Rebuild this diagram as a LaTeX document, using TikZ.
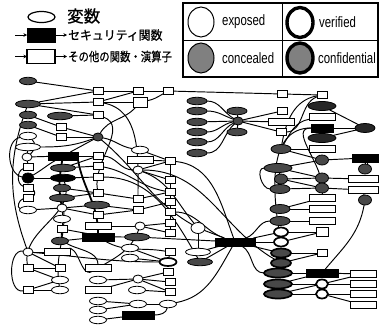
\documentclass[tikz,border=0pt]{standalone}
\usepackage{fontspec}
\setmainfont{Liberation Sans}
\newfontfamily\jp[FakeBold=0.8]{Noto Sans CJK JP}
\newfontfamily\nar[FakeStretch=0.76]{Liberation Sans}
\usetikzlibrary{shapes.geometric,arrows.meta}
\definecolor{lg}{RGB}{128,128,128}
\definecolor{dg}{RGB}{72,72,72}
\pgfdeclarelayer{bg}
\pgfsetlayers{bg,main}
\tikzset{
 nd/.style={inner sep=0pt,outer sep=0pt,line width=0.8pt,draw=black},
 vr/.style={nd,ellipse,fill=white,minimum width=17pt,minimum height=7.5pt},
 vrw/.style={vr,minimum width=25pt},
 ci/.style={nd,ellipse,fill=white,minimum width=10pt,minimum height=8pt},
 cv/.style={vr,fill=dg},
 cvw/.style={vrw,fill=dg},
 cc/.style={ci,fill=dg},
 vv/.style={ci,line width=1.7pt},
 fv/.style={vr,fill=dg,line width=1.7pt},
 fvw/.style={vrw,fill=dg,line width=1.7pt},
 bk/.style={vr,fill=black},
 fn/.style={nd,rectangle,fill=white,minimum width=10pt,minimum height=7pt},
 fnw/.style={fn,minimum width=26pt},
 sc/.style={nd,rectangle,fill=black,minimum width=30pt,minimum height=8pt},
 ed/.style={line width=0.95pt},
 tk/.style={line width=1.8pt},
 lgc/.style={nd,ellipse,minimum width=26pt,minimum height=30pt,line width=1pt},
 lgt/.style={anchor=west,inner sep=0pt,font=\nar\fontsize{15}{16}\selectfont},
 jpt/.style={anchor=west,inner sep=0pt},
 la/.style={-{Stealth[length=3.5pt,width=3.5pt]},line width=1pt},
}
\begin{document}
\begin{tikzpicture}[x=1pt,y=-1pt]
\useasboundingbox (0,0) rectangle (380,327);
% ---------- legend left ----------
\node[nd,ellipse,fill=white,minimum width=27pt,minimum height=11pt,line width=1.2pt] (le) at (41.5,17) {};
\node[jpt,font=\jp\fontsize{16.5}{17}\selectfont] (lt1) at (67,16) {変数};
\node[sc,minimum width=28pt,minimum height=14pt] (lsec) at (41,35) {};
\coordinate (la1) at (15,35);
\coordinate (la2) at (67,35);
\draw[la] (la1) -- (lsec.west);
\draw[la] (lsec.east) -- (la2);
\node[jpt,font=\jp\fontsize{12.5}{13}\selectfont] (lt2) at (68,35) {\scalebox{0.95}[1]{セキュリティ関数}};
\node[fn,minimum width=28pt,minimum height=14pt,line width=1.1pt] (lfn) at (41,56.5) {};
\coordinate (lb1) at (15,56.5);
\coordinate (lb2) at (67,56.5);
\draw[la] (lb1) -- (lfn.west);
\draw[la] (lfn.east) -- (lb2);
\node[jpt,font=\jp\fontsize{12.5}{13}\selectfont] (lt3) at (68,56.5) {\scalebox{0.83}[1]{その他の関数・演算子}};
% ---------- legend right ----------
\draw[line width=1.1pt] (183,3) rectangle (378,77);
\draw[line width=0.9pt] (282,3) -- (282,77);
\draw[line width=0.9pt] (183,40) -- (378,40);
\node[lgc,fill=white] (lc1) at (201,22) {};
\node[lgt] (lx1) at (222,22) {exposed};
\node[lgc,fill=white,line width=3.4pt] (lc2) at (300,22.5) {};
\node[lgt] (lx2) at (319,22) {verified};
\node[lgc,fill=lg] (lc3) at (201,58) {};
\node[lgt] (lx3) at (222,58) {concealed};
\node[lgc,fill=lg,line width=3.4pt] (lc4) at (300,58) {};
\node[lgt] (lx4) at (318,58) {confidential};
% ---------- graph nodes: left ----------
\node[cv] (a1) at (28,81) {};
\node[cvw] (a2) at (28,104) {};
\node[cv] (a3) at (28,115) {};
\node[cvw] (a4) at (60,116) {};
\node[cv] (a5) at (28,125) {};
\node[fn] (b1) at (98,91) {};
\node[fn] (b2) at (98,102) {};
\node[fn] (b3) at (98,115) {};
\node[fn] (b4) at (61,127) {};
\node[fn] (b5) at (61,137) {};
\node[vr] (w1) at (28,136) {};
\node[vrw] (w2) at (28,147) {};
\node[ci] (c1) at (27,157) {};
\node[cc] (x1) at (98,137) {};
\node[sc] (s1) at (63,156) {};
\node[fn] (f6) at (98,156) {};
\node[fn] (f7) at (98,166) {};
\node[fn] (f8) at (98,177) {};
\node[cvw] (e1) at (63,168) {};
\node[bk,minimum width=25pt] (e2) at (63,178) {};
\node[cv] (e3) at (62,188) {};
\node[cvw] (e4) at (62,198) {};
\node[fn] (l1) at (28,167) {};
\node[bk,minimum width=12pt,minimum height=10pt] (l2) at (28,178) {};
\node[fn] (l3) at (28,188) {};
\node[fn] (l4) at (28,198) {};
\node[vr] (l5) at (28,210) {};
\node[ci] (c2) at (62,208) {};
\node[fn] (f9) at (98,193) {};
\node[cvw] (e5) at (97,205) {};
\node[fn] (f10) at (98,215) {};
\node[vr] (w3) at (62,219) {};
\node[fn] (f11) at (62,229) {};
\node[fnw] (f12) at (98,226) {};
\node[cv] (e6) at (60,241) {};
\node[sc,minimum width=32pt] (s2) at (98,237) {};
\node[ci] (c3) at (28,252) {};
\node[fnw] (f13) at (57,252) {};
\node[fn] (f14) at (28,268) {};
\node[fn] (f15) at (60,268) {};
\node[fnw] (f16) at (98,268) {};
\node[vr] (w4) at (60,280) {};
\node[vr] (w5) at (98,280) {};
\node[fn] (f17) at (28,290) {};
\node[vr] (w6) at (60,290) {};
\node[fnw] (f18) at (98,290) {};
\node[vr] (w7) at (98,301) {};
\node[vr] (w8) at (98,310) {};
\node[vr] (w9) at (98,320) {};
% ---------- middle-left ----------
\node[fn] (g1) at (138,91) {};
\node[fn] (g2) at (168,91) {};
\node[fn,minimum width=14pt,minimum height=10pt] (g3) at (140,102) {};
\node[vr] (w10) at (140,150) {};
\node[fnw] (f19) at (140,160) {};
\node[fn] (f20) at (170,161) {};
\node[ci] (c4) at (138,170) {};
\node[fn] (f21) at (170,180) {};
\node[fn] (f22) at (170,192) {};
\node[fn] (f23) at (138,199) {};
\node[fn] (f24) at (170,202) {};
\node[fn] (f25) at (138,210) {};
\node[fn] (f26) at (170,212) {};
\node[fn] (f27) at (170,223) {};
\node[fn] (f28) at (170,233) {};
\node[ci] (c5) at (140,226) {};
\node[cvw] (e7) at (137,237) {};
\node[fn] (f29) at (170,252) {};
\node[vr] (w11) at (130,248) {};
\node[vr] (w12) at (130,258) {};
\node[vv,minimum width=17pt] (v1) at (168,262) {};
\node[fn] (f30) at (168,272) {};
\node[ci] (c6) at (138,279) {};
\node[fn] (f31) at (170,282) {};
\node[fn] (f32) at (170,292) {};
\node[vr] (w13) at (137,290) {};
\node[vr] (w14) at (138,304) {};
\node[vr] (w15) at (168,304) {};
\node[sc,minimum width=32pt] (s3) at (138,315) {};
% ---------- middle ----------
\node[cv,minimum width=20pt] (k1) at (197,101) {};
\node[cv,minimum width=20pt] (k2) at (197,111) {};
\node[cv,minimum width=20pt] (k3) at (197,122) {};
\node[cv,minimum width=20pt] (k4) at (197,132) {};
\node[cv,minimum width=20pt] (k5) at (197,142) {};
\node[cv,minimum width=20pt] (k6) at (197,153) {};
\node[cv,minimum width=20pt] (m1) at (237,111) {};
\node[cc] (m2) at (238,121) {};
\node[cv,minimum width=20pt] (m3) at (237,132) {};
\node[ci,minimum width=14pt,minimum height=11pt] (c7) at (198,228) {};
\node[vrw] (e8) at (198,252) {};
\node[cvw] (e9) at (200,262) {};
\node[sc,minimum width=40pt] (s4) at (235,242) {};
% ---------- right ----------
\node[fn] (r1) at (282,94) {};
\node[fn] (r2) at (282,111) {};
\node[fnw] (r3) at (281,122) {};
\node[fn] (r4) at (281,132) {};
\node[cv,minimum width=20pt,minimum height=9pt] (r5) at (281,149) {};
\node[cvw,minimum width=28pt,minimum height=9pt] (r6) at (278,168) {};
\node[cc,minimum width=13pt,minimum height=10pt] (r7) at (281,179) {};
\node[cv,minimum width=20pt,minimum height=9pt] (r8) at (280,189) {};
\node[cv,minimum width=20pt,minimum height=9pt] (r9) at (280,209) {};
\node[cv,minimum width=20pt,minimum height=9pt] (r10) at (280,221) {};
\node[vv,minimum width=14pt,minimum height=9pt] (r11) at (281,232) {};
\node[vv,minimum width=14pt,minimum height=9pt] (r12) at (281,242) {};
\node[fv,minimum width=20pt,minimum height=9pt] (r13) at (281,253) {};
\node[fv,minimum width=20pt,minimum height=9pt] (r14) at (281,263) {};
\node[fvw,minimum width=28pt,minimum height=9pt] (r15) at (278,273) {};
\node[fvw,minimum width=28pt,minimum height=9pt] (r16) at (278,284) {};
\node[fvw,minimum width=28pt,minimum height=9pt] (r17) at (278,294) {};
\node[fn] (q1) at (322,95) {};
\node[cvw,minimum width=28pt,minimum height=9pt,fill=black!85] (q2) at (322,106) {};
\node[fnw] (q3) at (322,117) {};
\node[sc,minimum width=22pt] (q4) at (322,128) {};
\node[cvw,minimum width=28pt,minimum height=9pt,fill=black!85] (q5) at (322,138) {};
\node[fnw] (q6) at (322,149) {};
\node[cc,minimum width=13pt,minimum height=10pt] (q7) at (322,160) {};
\node[cc,minimum width=13pt,minimum height=10pt] (q8) at (322,178) {};
\node[cc,minimum width=13pt,minimum height=10pt] (q9) at (322,188) {};
\node[fnw] (q10) at (322,198) {};
\node[fnw] (q11) at (322,209) {};
\node[fnw] (q12) at (322,221) {};
\node[fn,minimum width=12pt,minimum height=9pt] (q13) at (322,232) {};
\node[fn] (q14) at (322,253) {};
\node[sc,minimum width=32pt] (q15) at (322,273) {};
\node[vv,minimum width=12pt,minimum height=9pt] (q16) at (322,284) {};
\node[vv,minimum width=12pt,minimum height=9pt] (q17) at (322,294) {};
\node[cv,minimum width=20pt,minimum height=9pt,fill=black!85] (p1) at (365,128) {};
\node[sc,minimum width=26pt] (p2) at (365,158) {};
\node[cc,minimum width=13pt,minimum height=10pt] (p3) at (365,169) {};
\node[fnw,minimum width=30pt] (p4) at (363,179) {};
\node[fnw,minimum width=30pt] (p5) at (363,190) {};
\node[cc,minimum width=13pt,minimum height=10pt] (p6) at (365,200) {};
\node[fnw] (p7) at (363,274) {};
\node[fnw] (p8) at (363,284) {};
\node[fnw] (p9) at (363,294) {};
\node[fnw] (p10) at (363,305) {};
% ---------- edges ----------
\begin{pgfonlayer}{bg}
\draw[ed] (a1) -- (b1);
\draw[ed] (a2) -- (b1);
\draw[ed] (a2) -- (b2);
\draw[ed] (a2) -- (b3);
\draw[ed] (a4) -- (b3);
\draw[ed] (a3) -- (b4);
\draw[ed] (a5) -- (b5);
\draw[ed] (b4) -- (x1);
\draw[ed] (b5) -- (x1);
\draw[ed] (b1) -- (g1);
\draw[ed] (b2) -- (g1);
\draw[ed] (b2) -- (g3);
\draw[ed] (g1) -- (g2);
\draw[ed] (g2) -- (r1);
\draw[ed] (g3) to[out=10,in=-150] (g2);
\draw[ed] (x1) to[out=60,in=-130] (g3);
\draw[ed] (b2) to[out=-10,in=90] (f23);
\draw[ed] (b3) to[out=-20,in=100] (f9);
\draw[ed] (x1) -- (s1);
\draw[ed] (x1) to[out=-10,in=170] (w10);
\draw[ed] (x1) to[out=-40,in=150] (c7);
\draw[ed] (w2) to[out=0,in=-160] (x1);
\draw[ed] (w1) to[out=-40,in=40] (c1);
\draw[ed] (w2) -- (c1);
\draw[ed] (c1) -- (s1);
\draw[ed] (c1) -- (l1);
\draw[ed] (w1) to[out=190,in=170] (l2);
\draw[ed] (l1) to[out=200,in=160] (l3);
\draw[ed] (l2) -- (e2);
\draw[ed] (l2) to[out=30,in=-150] (s1);
\draw[ed] (l3) to[out=-20,in=20] (l4);
\draw[ed] (l4) to[out=190,in=170] (l5);
\draw[ed] (l5) -- (c2);
\draw[ed] (s1) -- (f6);
\draw[ed] (e1) -- (f7);
\draw[ed] (e2) -- (f8);
\draw[ed] (e1) -- (f6);
\draw[ed] (e3) -- (f9);
\draw[ed] (e4) -- (f9);
\draw[tk] (s1) to[out=-100,in=100] (c2);
\draw[tk] (s1.south east) to[out=-80,in=90] (s2);
\draw[ed] (c2) -- (e5);
\draw[ed] (c2) -- (f10);
\draw[ed] (c2) -- (w3);
\draw[ed] (w3) -- (f11);
\draw[ed] (f9) -- (f23);
\draw[ed] (e5) -- (f25);
\draw[ed] (f10) -- (f25);
\draw[ed] (f12) -- (c5);
\draw[ed] (c5) -- (f27);
\draw[ed] (c5) -- (f28);
\draw[ed] (f23) -- (f22);
\draw[ed] (f25) -- (f24);
\draw[ed] (f20) -- (f21);
\draw[ed] (f21) -- (f22);
\draw[ed] (f22) -- (f24);
\draw[ed] (f24) -- (f26);
\draw[ed] (f26) -- (f27);
\draw[ed] (f27) -- (f28);
\draw[ed] (w10) -- (f20);
\draw[ed] (f19) -- (f20);
\draw[ed] (c4) -- (f20);
\draw[ed] (c4) -- (f21);
\draw[ed] (c4) to[out=-20,in=130] (c7);
\draw[ed] (f20) to[out=-5,in=110] (s4);
\draw[ed] (f6) to[out=0,in=180] (c4);
\draw[ed] (f7) to[out=-10,in=170] (f22);
\draw[ed] (f8) to[out=0,in=120] (e9);
\draw[ed] (e6) -- (s2);
\draw[ed] (e7) -- (s4);
\draw[ed] (s2) to[out=-30,in=170] (f29);
\draw[ed] (f11) to[out=-10,in=180] (e7);
\draw[ed] (c3) -- (f13);
\draw[ed] (c3) -- (f15);
\draw[ed] (c3) to[out=-5,in=180] (v1);
\draw[ed] (c3) to[out=170,in=190] (f17);
\draw[ed] (f14) -- (f15);
\draw[ed] (f14) -- (w4);
\draw[ed] (f17) -- (w4);
\draw[ed] (f17) -- (w6);
\draw[ed] (f16) to[out=30,in=-110] (c5);
\draw[ed] (f13) to[out=20,in=-150] (f16);
\draw[ed] (w5) -- (c6);
\draw[ed] (f18) -- (c6);
\draw[ed] (c6) -- (f30);
\draw[ed] (c6) -- (f31);
\draw[ed] (c6) -- (f32);
\draw[ed] (w13) -- (f32);
\draw[ed] (w7) -- (w14);
\draw[ed] (w8) -- (w14);
\draw[ed] (w14) -- (w15);
\draw[ed] (w9) -- (s3);
\draw[ed] (w11) -- (v1);
\draw[ed] (w12) -- (v1);
\draw[ed] (v1) -- (f29);
\draw[ed] (e2) to[out=-70,in=100] (f14);
\draw[ed] (a2) to[out=-110,in=110] (c3);
\draw[ed] (e4) to[out=-80,in=100] (w6);
\draw[ed] (f11) to[out=-100,in=90] (f16);
\draw[ed] (s3) to[out=0,in=-100] (w15);
\draw[ed] (w15) to[out=10,in=-120] (s4);
\draw[ed] (f26) to[out=0,in=160] (s4);
% middle
\draw[ed] (k1) to[out=0,in=150] (m2);
\draw[ed] (k2) to[out=0,in=160] (m2);
\draw[ed] (k3) -- (m2);
\draw[ed] (k4) to[out=0,in=-170] (m2);
\draw[ed] (k5) to[out=0,in=-155] (m2);
\draw[ed] (k6) to[out=0,in=-140] (m2);
\draw[ed] (m1) -- (m2);
\draw[ed] (m3) -- (m2);
\draw[ed] (m2) -- (r2);
\draw[ed] (m2) -- (r3);
\draw[ed] (m2) -- (r4);
\draw[ed] (c7) -- (e8);
\draw[ed] (c7) -- (s4);
\draw[ed] (e8) -- (s4);
\draw[ed] (e9) -- (s4);
\draw[ed] (s4) -- (r11);
\draw[ed] (s4) -- (r12);
\draw[ed] (s4) -- (r13);
\draw[ed] (s4) to[out=20,in=180] (r10);
\draw[ed] (s4) to[out=-30,in=180] (r15);
\draw[ed] (c4) to[out=0,in=150] (r14);
% right
\draw[ed] (r1) -- (q1);
\draw[ed] (q1) to[out=190,in=80] (r5);
\draw[ed] (q3) to[out=190,in=60] (r5);
\draw[ed] (r4) to[out=0,in=200] (q1);
\draw[ed] (q2) -- (p1);
\draw[ed] (q4) -- (p1);
\draw[ed] (q5) -- (p1);
\draw[ed] (q4) to[out=180,in=95] (q9);
\draw[ed] (r5) -- (q6);
\draw[ed] (r5) -- (q7);
\draw[ed] (r6) -- (q7);
\draw[ed] (r6) -- (q8);
\draw[ed] (r6) -- (r7);
\draw[ed] (r7) -- (q8);
\draw[ed] (r7) -- (q9);
\draw[ed] (r8) -- (q9);
\draw[ed] (r6) to[out=180,in=180] (r8);
\draw[ed] (q7) -- (p2);
\draw[ed] (p2) -- (p3);
\draw[ed] (q8) -- (p4);
\draw[ed] (q9) -- (p5);
\draw[ed] (p6) -- (p5);
\draw[ed] (p6) to[out=-100,in=50] (q15);
\draw[ed] (p2) to[out=-60,in=60] (p3);
\draw[ed] (q9) -- (q10);
\draw[ed] (r9) -- (q10);
\draw[ed] (r9) -- (q11);
\draw[ed] (r10) -- (q12);
\draw[ed] (r11) -- (q13);
\draw[ed] (r12) -- (q13);
\draw[ed] (r13) -- (q14);
\draw[ed] (r14) -- (q14);
\draw[ed] (r15) -- (q15);
\draw[ed] (r16) -- (q16);
\draw[ed] (r17) -- (q17);
\draw[ed] (r16) -- (q15);
\draw[ed] (r17) -- (q16);
\draw[ed] (q15) -- (p7);
\draw[ed] (q16) -- (p8);
\draw[ed] (q16) -- (p7);
\draw[ed] (q17) -- (p9);
\draw[ed] (q17) -- (p10);
\draw[ed] (q4) to[out=180,in=100] (r12);
\end{pgfonlayer}
\end{tikzpicture}
\end{document}
